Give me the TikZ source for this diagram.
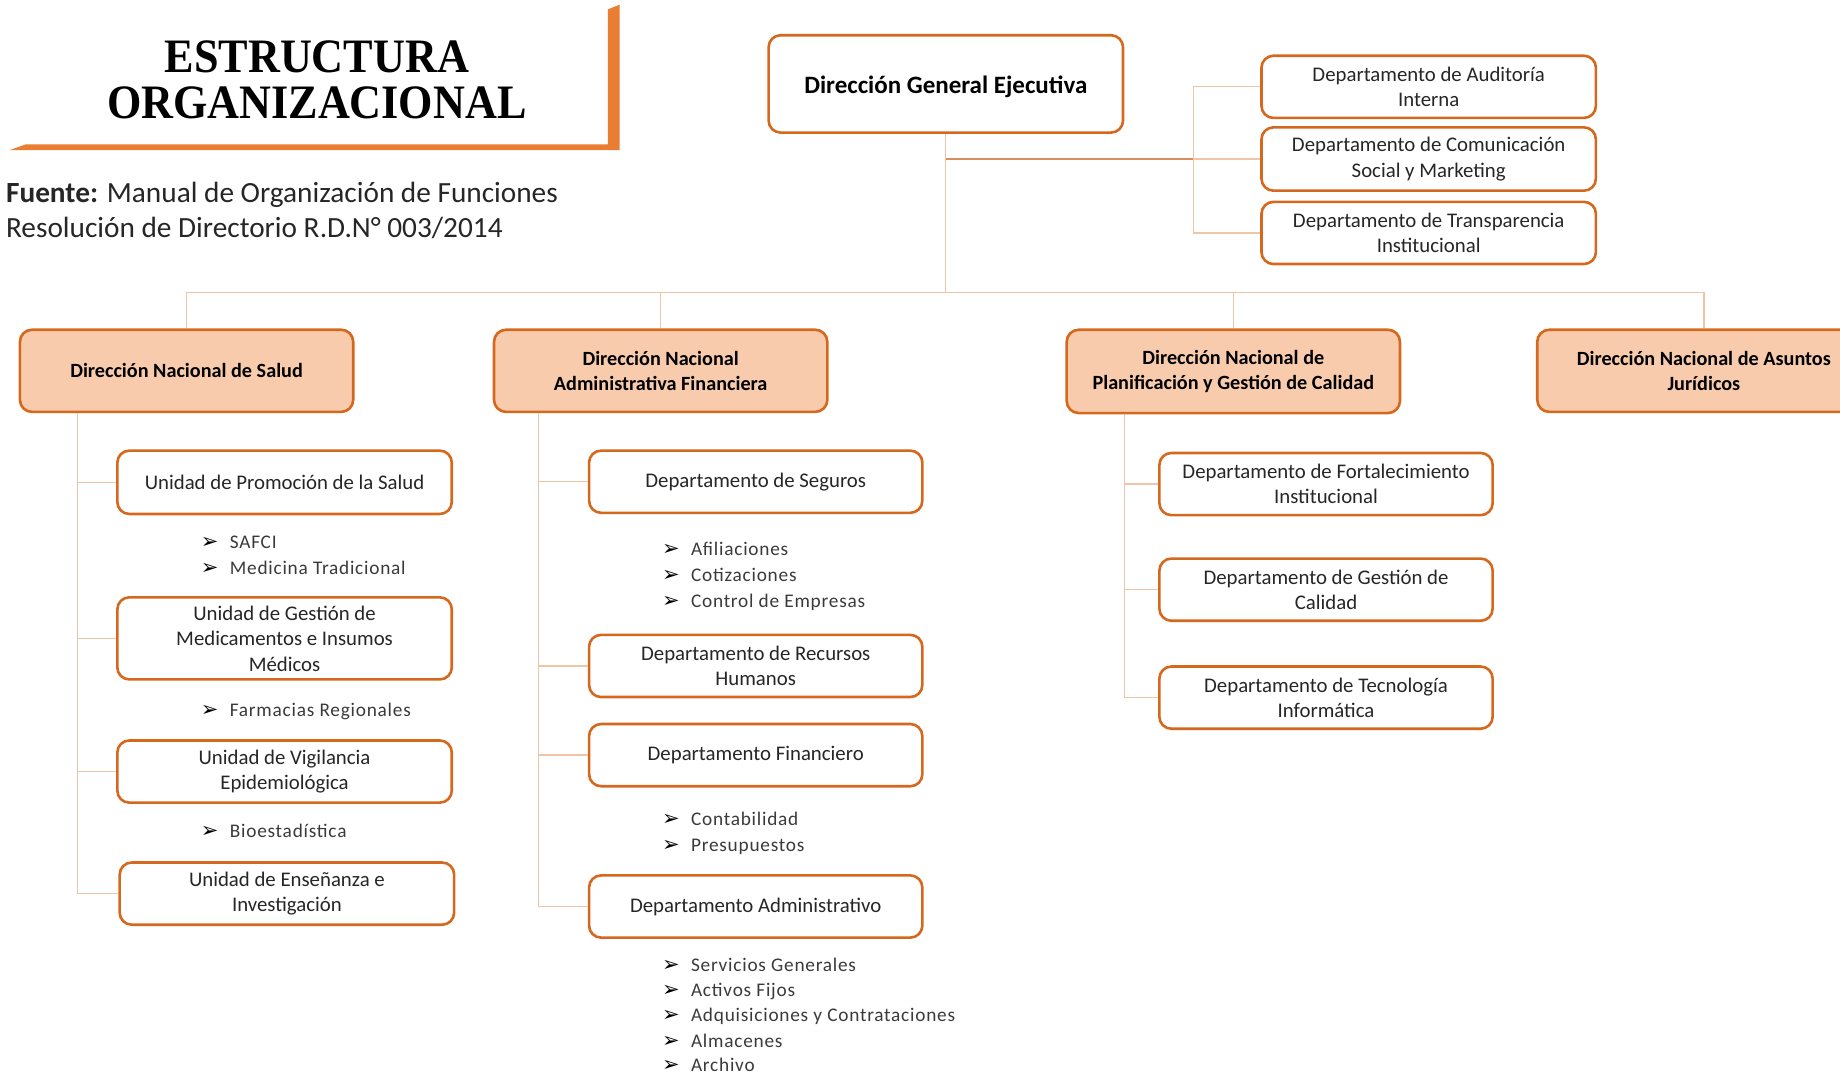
\documentclass[tikz,border=0pt]{standalone}
\usepackage{fontspec}
\setmainfont{Carlito}
\newfontfamily\titlefont{Liberation Serif}
\newfontfamily\itemfont{Carlito}[LetterSpace=4]
\newfontfamily\arrowfont{DejaVu Sans}
\newcommand{\myfs}[2]{\fontsize{#1}{#2}\selectfont}
\newcommand{\itm}[1]{\makebox[29pt][l]{\color{black}\arrowfont\myfs{21}{21}\raisebox{0pt}{➢}}#1}
\definecolor{borde}{HTML}{D6681E}
\definecolor{peach}{HTML}{F8CBAD}
\definecolor{linec}{HTML}{F0C4A6}
\definecolor{linedark}{HTML}{D98E5C}
\definecolor{bannerc}{HTML}{E97D31}
\definecolor{txt}{HTML}{262626}
\definecolor{itemc}{HTML}{3A3A3A}
\tikzset{
  sz/.style 2 args={minimum width={#1*1.17347pt}, minimum height={#2*1.17347pt}},
  box/.style={draw=borde, line width=2.6pt, rounded corners=12pt, fill=white, align=center,
              text=txt, font=\myfs{20.8}{25.5}, inner sep=2pt},
  dirbox/.style={box, fill=peach, text=black, font=\bfseries\myfs{20.2}{25.5}},
  dgebox/.style={box, text=black, font=\bfseries\myfs{25}{30}},
  conn/.style={draw=linec, line width=1.3pt},
  conndark/.style={draw=linedark, line width=2pt},
  item/.style={anchor=base west, inner sep=0, text=itemc, font=\itemfont\myfs{19.3}{22}},
  src/.style={anchor=base west, inner sep=0, text=txt, font=\myfs{29.3}{34}},
  ttl/.style={anchor=base, inner sep=0, text=black, font=\titlefont\bfseries\myfs{48}{50}}
}
\begin{document}
\begin{tikzpicture}[x=1.17347pt,y=-1.17347pt]
\useasboundingbox (0,0) rectangle (1568,915);

% ---- title banner
\fill[bannerc] (8,128) -- (22,123) -- (518,123) -- (518,8) -- (528,4) -- (528,128) -- cycle;
\node[ttl] (t1) at (270,62) {\scalebox{0.92}[1]{ESTRUCTURA}};
\node[ttl] (t2) at (270,101) {\scalebox{0.92}[1]{ORGANIZACIONAL}};
\node[src] (f1) at (5,172.5) {\textbf{Fuente:} Manual de Organización de Funciones};
\node[src] (f2) at (5,202.5) {Resolución de Directorio R.D.N° 003/2014};

% ---- top level
\node[dgebox, sz={302}{83}] (dge) at (806,71.5) {\raisebox{-9.5pt}[0pt][0pt]{Dirección General Ejecutiva}};
\node[box, sz={285}{53}] (aud) at (1217.5,74) {Departamento de Auditoría\\Interna};
\node[box, sz={285}{54}] (com) at (1217.5,135.5) {Departamento de Comunicación\\Social y Marketing};
\node[box, sz={285}{53}] (tra) at (1217.5,198.5) {Departamento de Transparencia\\Institucional};

% ---- directions
\node[dirbox, sz={284}{70}] (dns) at (159,316) {Dirección Nacional de Salud};
\node[dirbox, sz={284}{70}] (dnaf) at (563,316) {Dirección Nacional\\Administrativa Financiera};
\node[dirbox, sz={284}{71}] (dnp) at (1051,316.5) {Dirección Nacional de\\Planificación y Gestión de Calidad};
\node[dirbox, sz={284}{70}] (dnaj) at (1452,316) {Dirección Nacional de Asuntos\\Jurídicos};

% ---- salud units
\node[box, sz={285}{54}] (ups) at (242.5,411) {Unidad de Promoción de la Salud};
\node[box, sz={285}{70}] (ugm) at (242.5,544) {Unidad de Gestión de\\Medicamentos e Insumos\\Médicos};
\node[box, sz={285}{53}] (uve) at (242.5,657.5) {Unidad de Vigilancia\\Epidemiológica};
\node[box, sz={285}{53}] (uei) at (244.5,761.5) {Unidad de Enseñanza e\\Investigación};

% ---- administrativa departments
\node[box, sz={284}{53}] (dseg) at (644,410.5) {Departamento de Seguros};
\node[box, sz={284}{53}] (drh) at (644,567.5) {Departamento de Recursos\\Humanos};
\node[box, sz={284}{53}] (dfin) at (644,643.5) {Departamento Financiero};
\node[box, sz={284}{53}] (dadm) at (644,772.5) {Departamento Administrativo};

% ---- planificacion departments
\node[box, sz={284}{53}] (dfi) at (1130,412.5) {Departamento de Fortalecimiento\\Institucional};
\node[box, sz={284}{53}] (dgc) at (1130,502.5) {Departamento de Gestión de\\Calidad};
\node[box, sz={284}{53}] (dti) at (1130,594.5) {Departamento de Tecnología\\Informática};

% ---- bullet items
\node[item] (s1) at (171,467.5) {\itm{SAFCI}};
\node[item] (s2) at (171,489.5) {\itm{Medicina Tradicional}};
\node[item] (s3) at (171,610.5) {\itm{Farmacias Regionales}};
\node[item] (s4) at (171,713.5) {\itm{Bioestadística}};
\node[item] (a1) at (564,473.5) {\itm{Afiliaciones}};
\node[item] (a2) at (564,495.5) {\itm{Cotizaciones}};
\node[item] (a3) at (564,517.5) {\itm{Control de Empresas}};
\node[item] (a4) at (564,703.5) {\itm{Contabilidad}};
\node[item] (a5) at (564,725.5) {\itm{Presupuestos}};
\node[item] (a6) at (564,827.5) {\itm{Servicios Generales}};
\node[item] (a7) at (564,849.5) {\itm{Activos Fijos}};
\node[item] (a8) at (564,870.5) {\itm{Adquisiciones y Contrataciones}};
\node[item] (a9) at (564,892.5) {\itm{Almacenes}};
\node[item] (a10) at (564,913.5) {\itm{Archivo}};

% ---- connectors
\coordinate (bus) at (806,249);
\coordinate (staff) at (1017,0);
\coordinate (sv) at (66,0);
\coordinate (av) at (459,0);
\coordinate (pv) at (958,0);

\draw[conn] (dge.south) -- (dge.south |- bus);
\draw[conn] (dns.north) |- (dnaj.north |- bus) -- (dnaj.north);
\draw[conn] (dnaf.north) -- (dnaf.north |- bus);
\draw[conn] (dnp.north) -- (dnp.north |- bus);
\draw[conndark] (dge.south |- com.west) -- (staff |- com.west);
\draw[conn] (staff |- com.west) -- (com.west);
\draw[conn] (aud.west) -| (staff |- tra.west) -- (tra.west);

\draw[conn] (dns.south -| sv) |- (uei.west);
\draw[conn] (ups.west -| sv) -- (ups.west);
\draw[conn] (ugm.west -| sv) -- (ugm.west);
\draw[conn] (uve.west -| sv) -- (uve.west);

\draw[conn] (dnaf.south -| av) |- (dadm.west);
\draw[conn] (dseg.west -| av) -- (dseg.west);
\draw[conn] (drh.west -| av) -- (drh.west);
\draw[conn] (dfin.west -| av) -- (dfin.west);

\draw[conn] (dnp.south -| pv) |- (dti.west);
\draw[conn] (dfi.west -| pv) -- (dfi.west);
\draw[conn] (dgc.west -| pv) -- (dgc.west);
\end{tikzpicture}
\end{document}
